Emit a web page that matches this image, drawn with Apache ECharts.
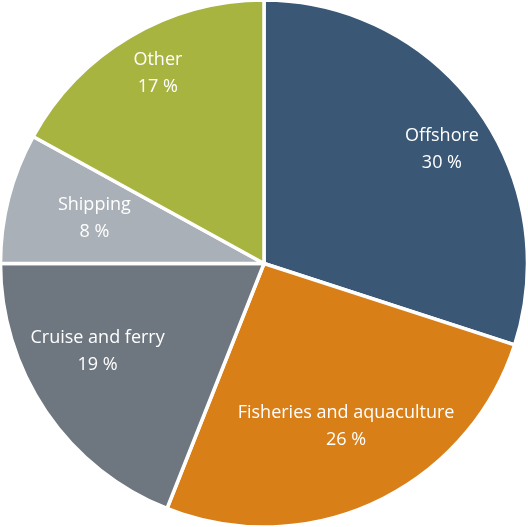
<!DOCTYPE html>
<html>
<head>
<meta charset="utf-8">
<script src="https://cdn.jsdelivr.net/npm/echarts@6/dist/echarts.min.js"></script>
<style>
  html, body { margin: 0; padding: 0; background: #fff; }
  #chart { width: 528px; height: 527px; }
</style>
</head>
<body>
<div id="chart"></div>
<script>
// sectors, clockwise from 12 o'clock
const categories = ['Offshore', 'Fisheries and aquaculture', 'Cruise and ferry', 'Shipping', 'Other']
const shares = [30, 26, 19, 8, 17]

const colors = ['#3a5775', '#d97f17', '#6e7680', '#a9b0b8', '#a8b440']
// nudge each label so it sits where the original has it
const labelOffsets = [[22, -1], [0, -12], [-7, -20], [17, 3], [-8, -24]]

const chart = echarts.init(document.getElementById('chart'))

const pieData = categories.map((name, i) => ({
  name: name,
  value: shares[i],
  itemStyle: { color: colors[i] }
}))

const labelData = categories.map((name, i) => ({
  name: name,
  value: shares[i],
  label: { offset: labelOffsets[i] }
}))

chart.setOption({
  animation: false,
  series: [{
    type: 'pie',
    center: ['50%', '50%'],
    radius: ['0%', '100%'],
    startAngle: 90,
    clockwise: true,
    itemStyle: { borderColor: '#fff', borderWidth: 3.5 },
    label: { show: false },
    labelLine: { show: false },
    data: pieData
  }, {
    // invisible ring used only to place the labels further out
    type: 'pie',
    center: ['50%', '50%'],
    radius: ['44%', '100%'],
    startAngle: 90,
    clockwise: true,
    silent: true,
    itemStyle: { color: 'rgba(0,0,0,0)' },
    labelLine: { show: false },
    label: {
      show: true,
      position: 'inside',
      formatter: '{b}\n{c} %',
      color: '#fff',
      fontFamily: 'Open Sans',
      fontSize: 18,
      lineHeight: 27
    },
    data: labelData
  }]
})
</script>
</body>
</html>
